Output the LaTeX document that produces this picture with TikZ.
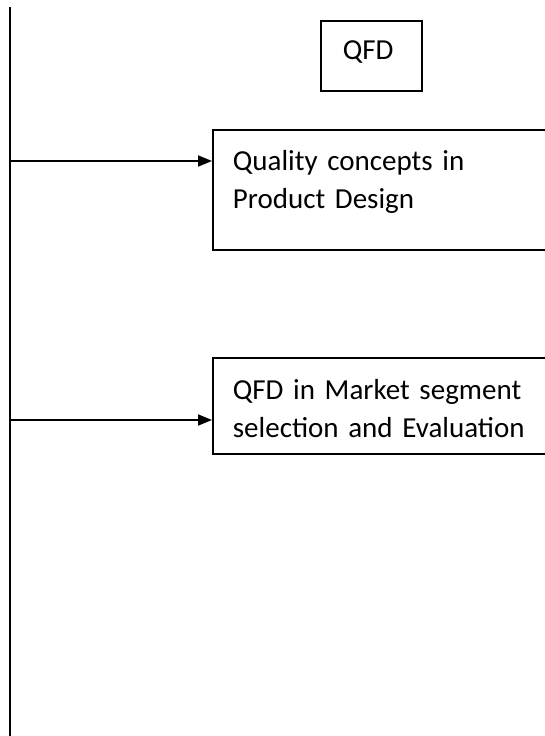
\documentclass[tikz,border=0pt]{standalone}
\usepackage{fontspec}
\setmainfont{Carlito}
\usepackage{tikz}
\usetikzlibrary{arrows.meta}

\begin{document}
\begin{tikzpicture}[
x=1pt,y=-1pt,
font=\fontsize{29}{38}\selectfont,
box/.style={draw,line width=1.8pt,inner ysep=0pt,anchor=north west,align=left},
textbox/.style={box,text width=330pt,inner xsep=20pt},
arr/.style={-{Triangle[length=14pt,width=11pt]},line width=1.8pt}
]
\useasboundingbox (0,0) rectangle (545,736);
\clip (0,0) rectangle (545,736);
% main line on the left
\coordinate (top) at (10,7);
\coordinate (bottom) at (10,736);
\draw[line width=1.8pt] (top) -- (bottom);
\node[box,text width=57pt,inner xsep=22pt,text height=39pt,text depth=31pt] (qfd) at (320,20) {QFD};
\node[textbox,text height=41pt,text depth=79pt] (quality) at (212,129)
  {Quality concepts in\\Product Design};
\node[textbox,text height=42pt,text depth=54pt] (market) at (212,357)
  {QFD in Market segment\\selection and Evaluation};
% branches off the main line
\coordinate (b1) at (10,161);
\coordinate (b2) at (10,420);
\draw[arr] (b1) -- (b1 -| quality.west);
\draw[arr] (b2) -- (b2 -| market.west);
\end{tikzpicture}
\end{document}
